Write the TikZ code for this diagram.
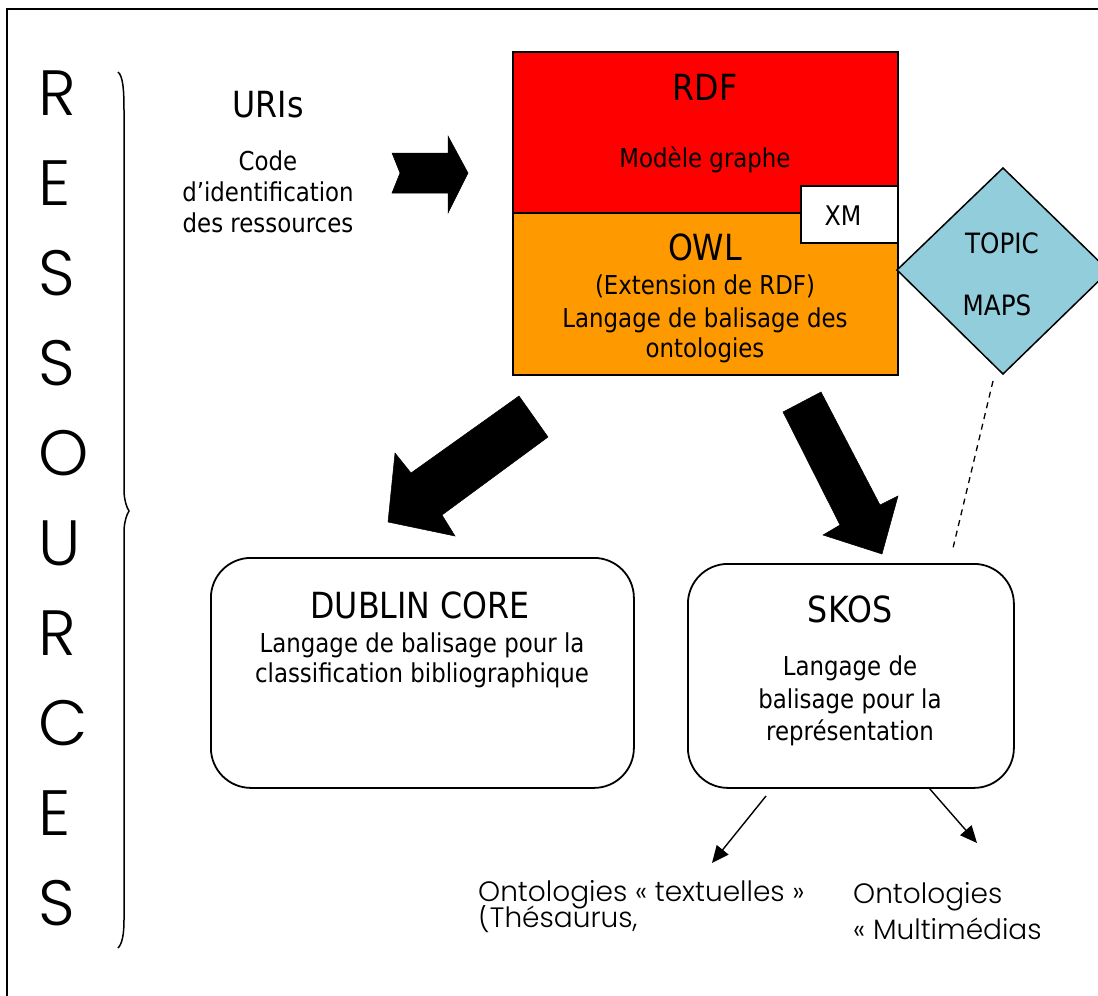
\documentclass[tikz,border=0pt]{standalone}
\usepackage{fontspec}
\setmainfont{DejaVu Sans}[FakeStretch=0.88]
\newfontfamily\gothic{Poppins Light}
\usetikzlibrary{arrows.meta}
\definecolor{rdfred}{RGB}{255,0,0}
\definecolor{owlorange}{RGB}{255,153,0}
\definecolor{topicblue}{RGB}{146,205,220}
\begin{document}
\begin{tikzpicture}[x=1pt,y=-1pt,
  txt/.style={inner sep=0pt, anchor=base, font=\fontsize{26}{32}\selectfont},
  title/.style={inner sep=0pt, anchor=base, font=\fontsize{36}{40}\selectfont},
  gtxt/.style={inner sep=0pt, anchor=base west, font=\gothic\fontsize{28}{34}\selectfont},
  letter/.style={inner sep=0pt, anchor=base west, font=\gothic\fontsize{64}{64}\selectfont},
  sqbox/.style={draw=black, line width=1.6pt, inner sep=0pt, anchor=north west},
  roundbox/.style={draw=black, line width=1.8pt, rounded corners=40pt, inner sep=0pt, anchor=north west, fill=white},
  blockarrow/.style={fill=black, draw=black, line width=0.5pt, line join=miter},
  thinarrow/.style={line width=1.4pt, -{Triangle[length=17pt,width=15pt]}}
]
\useasboundingbox (0,0) rectangle (1098,996);
\fill[white] (0,0) rectangle (1098,996);
% outer frame
\draw[line width=2pt] (7,996) -- (7,9) -- (1098,9);

% RESSOURCES
\foreach \L [count=\i from 0] in {R,E,S,S,O,U,R,C,E,S}{
  \node[letter] (let\i) at (38,115+90*\i) {\L};
}
% brace
\draw[line width=1.5pt] (118,72) .. controls (123,76) and (124,90) .. (124,110) -- (124,490)
  .. controls (124,500) and (127,508) .. (129,511)
  .. controls (127,514) and (124,522) .. (124,532) -- (124,920)
  .. controls (124,935) and (122,944) .. (118,948);

% URIs
\node[inner sep=0pt, anchor=base, font=\fontsize{36}{40}\selectfont] (uris) at (268,117) {URIs};
\node[txt] (code1) at (268,170) {Code};
\node[txt] (code2) at (268,201) {d’identification};
\node[txt] (code3) at (268,232) {des ressources};

% right block arrow
\fill[blockarrow] (392,153) -- (448,153) -- (448,136) -- (468,173) -- (448,213) -- (448,193) -- (392,193) -- (400,173) -- cycle;

% RDF / OWL
\node[sqbox, fill=rdfred, minimum width=385pt, minimum height=161pt] (rdf) at (512,51) {};
\node[sqbox, fill=owlorange, minimum width=385pt, minimum height=162pt] (owl) at (512,212) {};
\node[sqbox, fill=white, minimum width=97pt, minimum height=57pt] (xm) at (800,185) {};
\node[title] (rdft) at (705,100) {RDF};
\node[txt] (rdfsub) at (705,167) {Modèle graphe};
\node[txt, font=\fontsize{27}{30}\selectfont] (xmt) at (843,225) {XM};
\node[title] (owlt) at (705,260) {OWL};
\node[txt] (owl1) at (705,294) {(Extension de RDF)};
\node[txt] (owl2) at (705,327) {Langage de balisage des};
\node[txt] (owl3) at (705,357) {ontologies};

% TOPIC MAPS diamond
\filldraw[fill=topicblue, draw=black, line width=1.5pt] (897,270) -- (1003,168) -- (1109,271) -- (1003,374) -- cycle;
\node[txt, font=\fontsize{28}{32}\selectfont] (topic1) at (1002,253) {TOPIC};
\node[txt, font=\fontsize{28}{32}\selectfont] (topic2) at (997,315) {MAPS};
\coordinate (dashA) at (993,381);
\coordinate (dashB) at (953,548);
\draw[line width=1.3pt, dash pattern=on 6pt off 5pt] (dashA) -- (dashB);

% big arrows
\fill[blockarrow] (519,396) -- (548,437) -- (442,515) -- (455,536) -- (388,522) -- (395,453) -- (411,473) -- cycle;
\fill[blockarrow] (783,412) -- (821,392) -- (880,505) -- (898,496) -- (882,554) -- (823,535) -- (840,525) -- cycle;

% DUBLIN CORE
\node[roundbox, minimum width=423pt, minimum height=230pt] (dc) at (210,557) {};
\node[title] (dct) at (420,618) {DUBLIN CORE};
\node[txt] (dc1) at (422,652) {Langage de balisage pour la};
\node[txt] (dc2) at (422,682) {classification bibliographique};

% SKOS
\node[roundbox, minimum width=326pt, minimum height=224pt] (skos) at (687,563) {};
\node[title] (skost) at (850,622) {SKOS};
\node[txt] (sk1) at (850,675) {Langage de};
\node[txt] (sk2) at (850,708) {balisage pour la};
\node[txt] (sk3) at (850,740) {représentation};

% small arrows
\coordinate (s1) at (766,796);
\coordinate (t1) at (712,863);
\coordinate (s2) at (929,788);
\coordinate (t2) at (977,843);
\draw[thinarrow] (s1) -- (t1);
\draw[thinarrow] (s2) -- (t2);

% bottom texts
\node[gtxt] (ont1) at (478,901) {Ontologies « textuelles »};
\begin{scope}
  \clip (470,905) rectangle (800,933);
  \node[gtxt] (ont1b) at (478,927) {(Thésaurus,};
\end{scope}
\node[gtxt] (ont2) at (853,903) {Ontologies};
\node[gtxt] (ont2b) at (853,939) {« Multimédias};
\end{tikzpicture}
\end{document}
